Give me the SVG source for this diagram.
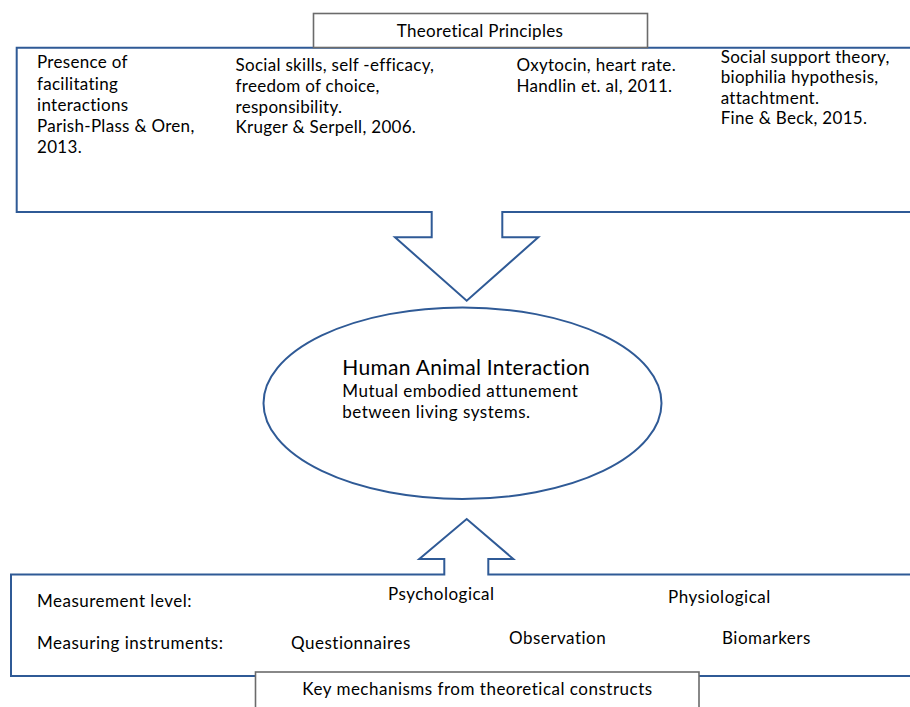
<svg xmlns="http://www.w3.org/2000/svg" width="910" height="707" viewBox="0 0 910 707">
<style>
.blue{fill:#ffffff;stroke:#2F5A96;stroke-width:2}
.gray{fill:#ffffff;stroke:#6B6B6B;stroke-width:1.6}
text{font-family:Lato,"Liberation Sans",sans-serif;fill:#000000;font-size:17px;letter-spacing:0.3px;font-variant-ligatures:none}
.wide{letter-spacing:0.5px}
.title{font-size:21px;letter-spacing:0.3px}
</style>
<rect width="910" height="707" fill="#ffffff"/>
<g id="connectors">
<path id="top-callout" class="blue" d="M 920 47.7 H 16.7 V 212 H 431.7 V 237.3 H 395 L 466.7 300.7 L 538.3 237.3 H 502.3 V 212 H 920"/>
<path id="bottom-callout" class="blue" d="M 920 676 H 11 V 574.5 H 444.3 V 559 H 419.3 L 466.7 519 L 513.3 559 H 488.3 V 574.5 H 920"/>
</g>
<g id="principles-content">
<text x="37" y="68.3">Presence of</text>
<text x="37" y="89.5">facilitating</text>
<text x="37" y="110.8">interactions</text>
<text x="37" y="132.2">Parish-Plass &amp; Oren,</text>
<text x="37" y="153.2">2013.</text>
<text x="235.5" y="71">Social skills, self -efficacy,</text>
<text x="235.5" y="91.8">freedom of choice,</text>
<text x="235.5" y="112.6">responsibility.</text>
<text x="235.5" y="133.4">Kruger &amp; Serpell, 2006.</text>
<text x="516.5" y="71">Oxytocin, heart rate.</text>
<text x="516.5" y="91.5">Handlin et. al, 2011.</text>
<text x="720.7" y="62.7">Social support theory,</text>
<text x="720.7" y="83.3">biophilia hypothesis,</text>
<text x="720.7" y="103.8">attachtment.</text>
<text x="720.7" y="124.3">Fine &amp; Beck, 2015.</text>
</g>
<g id="theoretical-principles">
<rect class="gray" x="313.5" y="13.5" width="334" height="34"/>
<text x="480" y="36.7" text-anchor="middle">Theoretical Principles</text>
</g>
<g id="hai">
<ellipse class="blue" cx="462.5" cy="403.2" rx="199" ry="95.8"/>
<text class="title" x="342.3" y="375">Human Animal Interaction</text>
<text class="wide" x="342.3" y="397.3">Mutual embodied attunement</text>
<text class="wide" x="342.3" y="417.5">between living systems.</text>
</g>
<g id="measurement-content" class="wide">
<text class="wide" x="37" y="606.7">Measurement level:</text>
<text class="wide" x="388" y="599.5">Psychological</text>
<text class="wide" x="668" y="602.5">Physiological</text>
<text class="wide" x="37" y="649">Measuring instruments:</text>
<text class="wide" x="291" y="648.5">Questionnaires</text>
<text class="wide" x="509" y="644">Observation</text>
<text class="wide" x="722" y="644">Biomarkers</text>
</g>
<g id="key-mechanisms">
<rect class="gray" x="255.5" y="672" width="443.5" height="50"/>
<text class="wide" x="477.5" y="694.5" text-anchor="middle">Key mechanisms from theoretical constructs</text>
</g>
</svg>
